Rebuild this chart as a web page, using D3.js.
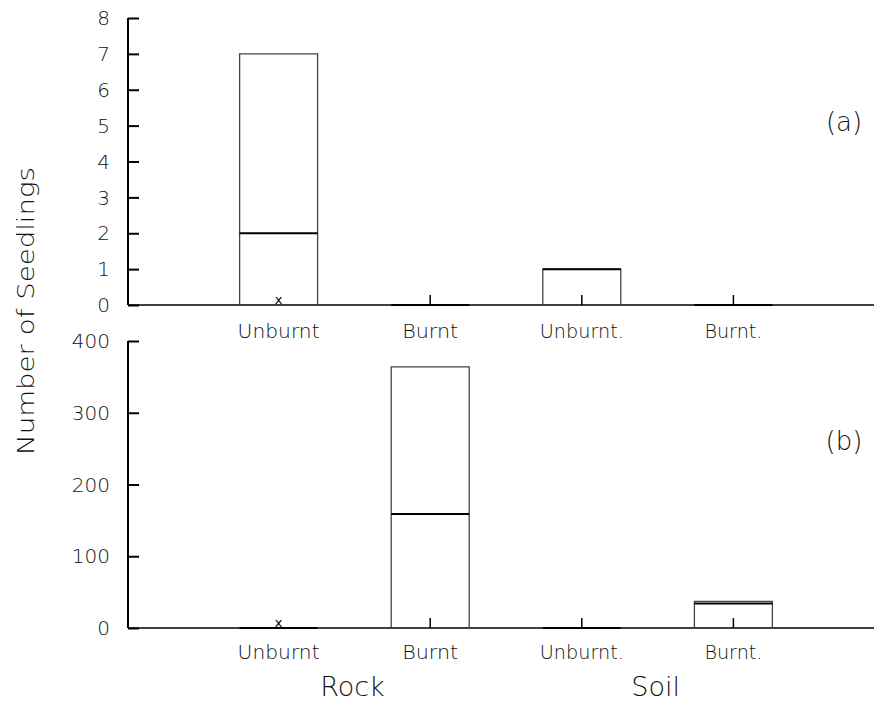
<!DOCTYPE html>
<html>
<head>
<meta charset="utf-8">
<script src="https://cdn.jsdelivr.net/npm/d3@7"></script>
<style>
  body { margin: 0; background: #fff; }
  text { font-family: "DejaVu Sans", sans-serif; font-weight: 300; fill: #111; }
</style>
</head>
<body>
<div id="chart"></div>
<script>
// categories along the x axis, two per substrate
var categories = ["Unburnt", "Burnt", "Unburnt.", "Burnt."];
var groups = ["Rock", "Soil"];

// panel (a): seedlings
var aLow = [0, 0, 0, 0];
var aMedian = [2, 0, 1, 0];
var aHigh = [7, 0, 1, 0];
var aTicks = [0, 1, 2, 3, 4, 5, 6, 7, 8];

// panel (b)
var bLow = [0, 0, 0, 0];
var bMedian = [0, 159, 0, 34];
var bHigh = [0, 364, 0, 37];
var bTicks = [0, 100, 200, 300, 400];

// "x" markers (category index, value)
var aMarks = [[0, 0]];
var bMarks = [[0, 0]];

var W = 878, H = 703;
var svg = d3.select("#chart").append("svg")
  .attr("width", W).attr("height", H);

var x = d3.scaleLinear().domain([0, 5]).range([127, 885]);
var axisLeft = 128, axisRight = 874, boxW = 78;

var panels = [
  {low: aLow, med: aMedian, high: aHigh, ticks: aTicks, marks: aMarks,
   y: d3.scaleLinear().domain([0, 8]).range([305, 18]), tag: "(a)", tagY: 131, labY: 338},
  {low: bLow, med: bMedian, high: bHigh, ticks: bTicks, marks: bMarks,
   y: d3.scaleLinear().domain([0, 400]).range([628, 341]), tag: "(b)", tagY: 450, labY: 659}
];

var labelW = [82, 56, 84, 58];

panels.forEach(function(p){
  var g = svg.append("g");
  var y0 = p.y(0);

  // baseline
  g.append("line")
    .attr("x1", axisLeft).attr("x2", axisRight)
    .attr("y1", y0).attr("y2", y0)
    .attr("stroke", "#000").attr("stroke-width", 1.6);

  // left axis with inward ticks
  var yAx = d3.axisRight(p.y).tickValues(p.ticks).tickSize(11).tickFormat("");
  g.append("g")
    .attr("transform", "translate(" + axisLeft + ",0)")
    .call(yAx)
    .call(function(s){
      s.select(".domain").attr("stroke-width", 2).attr("d",
        "M" + 0 + "," + p.y(p.ticks[0]) + "V" + p.y(p.ticks[p.ticks.length - 1]));
      s.selectAll(".tick line").attr("stroke-width", 2);
    });

  g.selectAll(".ylab").data(p.ticks).enter().append("text")
    .attr("x", 110).attr("y", function(d){ return p.y(d); })
    .attr("dy", "0.36em")
    .attr("text-anchor", "end")
    .style("font-size", "20px")
    .text(function(d){ return d; });

  // boxes
  categories.forEach(function(c, i){
    var cx = x(i + 1);
    var x1 = cx - boxW / 2, x2 = cx + boxW / 2;
    if (p.high[i] > p.low[i]) {
      g.append("path")
        .attr("d", "M" + x1 + "," + p.y(p.low[i]) + "V" + p.y(p.high[i]) +
                   "H" + x2 + "V" + p.y(p.low[i]))
        .attr("fill", "none").attr("stroke", "#444").attr("stroke-width", 1.3);
    }
    g.append("line")
      .attr("x1", x1).attr("x2", x2)
      .attr("y1", p.y(p.med[i])).attr("y2", p.y(p.med[i]))
      .attr("stroke", "#000").attr("stroke-width", 2);
  });

  // x ticks pointing up, x markers where present
  categories.forEach(function(c, i){
    var hasMark = p.marks.some(function(m){ return m[0] === i; });
    if (!hasMark) {
      g.append("line")
        .attr("x1", x(i + 1)).attr("x2", x(i + 1))
        .attr("y1", y0).attr("y2", y0 - 10)
        .attr("stroke", "#000").attr("stroke-width", 1.5);
    }
  });
  p.marks.forEach(function(m){
    g.append("text")
      .attr("x", x(m[0] + 1)).attr("y", p.y(m[1]) - 1)
      .attr("text-anchor", "middle")
      .style("font-size", "13px")
      .style("font-weight", "400")
      .style("fill", "#000")
      .text("x");
  });

  // category labels
  g.selectAll(".xlab").data(categories).enter().append("text")
    .attr("x", function(d, i){ return x(i + 1) - labelW[i] / 2; })
    .attr("y", p.labY)
    .attr("textLength", function(d, i){ return labelW[i]; })
    .attr("lengthAdjust", "spacingAndGlyphs")
    .style("font-size", "20px")
    .text(function(d){ return d; });

  g.append("text")
    .attr("x", 844).attr("y", p.tagY)
    .attr("text-anchor", "middle")
    .style("font-size", "26px")
    .text(p.tag);
});

// group labels
svg.selectAll(".grp").data(groups).enter().append("text")
  .attr("x", function(d, i){ return (x(2 * i + 1) + x(2 * i + 2)) / 2 - 2; })
  .attr("y", 696)
  .attr("text-anchor", "middle")
  .style("font-size", "27px")
  .text(function(d){ return d; });

// y title
svg.append("text")
  .attr("transform", "translate(34,311) rotate(-90)")
  .attr("text-anchor", "middle")
  .attr("textLength", 288)
  .attr("lengthAdjust", "spacingAndGlyphs")
  .style("font-size", "23px")
  .text("Number of Seedlings");
</script>
</body>
</html>
